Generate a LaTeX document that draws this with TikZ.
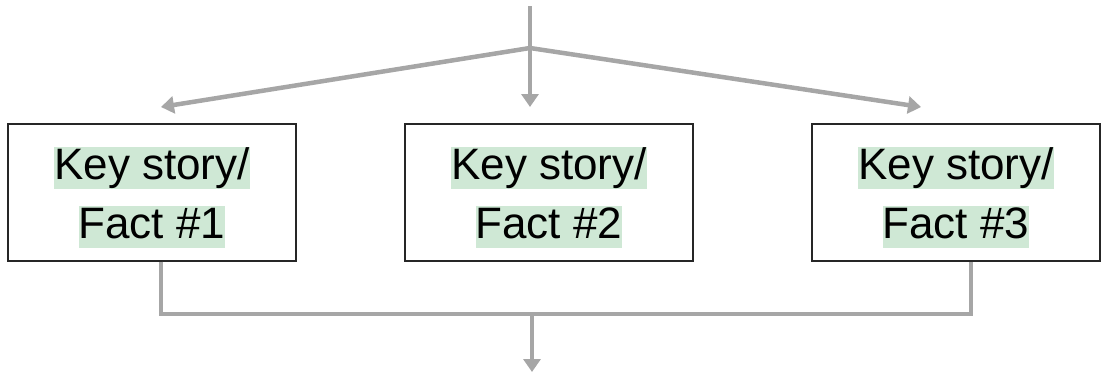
\documentclass[tikz,border=0pt]{standalone}
\usepackage{fontspec}
\setmainfont{Liberation Sans}
\usetikzlibrary{arrows.meta}

\definecolor{linegray}{HTML}{A6A6A6}
\definecolor{factgreen}{HTML}{CFE8D5}

% highlighted line of text
\newcommand{\hlt}[1]{{\setlength{\fboxsep}{0pt}\colorbox{factgreen}{\rule[-0.22em]{0pt}{0.95em}#1}}}

\begin{document}
\begin{tikzpicture}[x=1pt, y=-1pt,
	fact/.style={draw=black!85, line width=1.1pt, minimum width=288pt, minimum height=137pt,
		inner sep=0pt, align=center, font=\fontsize{44}{59}\selectfont},
	wire/.style={draw=linegray, line width=4.5pt},
	flow/.style={wire, -{Triangle[length=13pt, width=17pt]}}]
	\useasboundingbox (0,0) rectangle (1104,373);
	% the three boxes
	\node[fact] (fact1) at (152,192.5) {};
	\node[fact] (fact2) at (549,192.5) {};
	\node[fact] (fact3) at (956,192.5) {};
	% their texts
	\foreach \i in {1,2,3}
		\node[align=center, inner sep=0pt, font=\fontsize{44}{59}\selectfont]
			(text\i) at ([yshift=-5pt]fact\i.center) {\hlt{Key story/}\\\hlt{Fact \#\i}};
	% split on top
	\coordinate (source) at (530,6);
	\coordinate (split) at (530,48);
	\coordinate (in1) at (161,107);
	\coordinate (in2) at (530,107);
	\coordinate (in3) at (921,107);
	\draw[wire] (source) -- (split);
	\draw[flow] (split) -- (in1);
	\draw[flow] (split) -- (in2);
	\draw[flow] (split) -- (in3);
	% merge below
	\coordinate (merge) at (532,314);
	\coordinate (sink) at (532,372);
	\draw[wire] ([xshift=9pt]fact1.south) |- (merge) -| ([xshift=15pt]fact3.south);
	\draw[flow] (merge) -- (sink);
\end{tikzpicture}
\end{document}
